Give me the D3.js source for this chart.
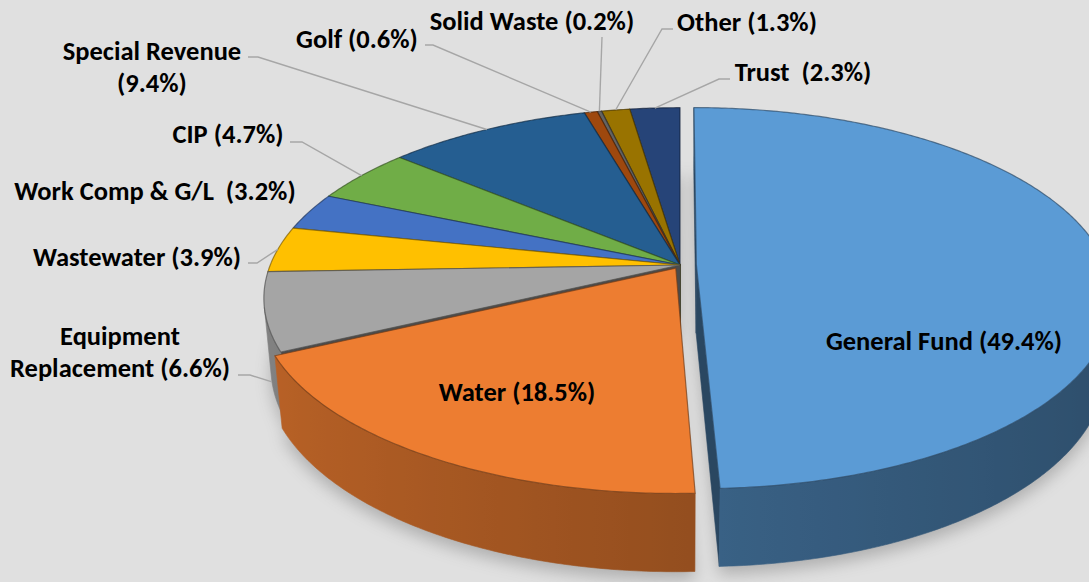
<!DOCTYPE html>
<html>
<head>
<meta charset="utf-8">
<script src="https://cdn.jsdelivr.net/npm/d3@7"></script>
<style>
  html, body { margin: 0; padding: 0; background: #e0e0e0; }
  #main { width: 1089px; height: 582px; overflow: hidden; }
  text { font-family: Carlito, Calibri, "Open Sans", sans-serif; font-weight: 700; fill: #000; white-space: pre; }
</style>
</head>
<body>
<div id="main"></div>
<script>
'use strict';

// fund shares, in pie order (clockwise from 12 o'clock)
var funds = ['General Fund', 'Water', 'Equipment Replacement', 'Wastewater', 'Work Comp & G/L', 'CIP',
  'Special Revenue', 'Golf', 'Solid Waste', 'Other', 'Trust'];
var shares = [49.4, 18.5, 6.6, 3.9, 3.2, 4.7, 9.4, 0.6, 0.2, 1.3, 2.3];
var labels = [
  ['General Fund (49.4%)'],
  ['Water (18.5%)'],
  ['Equipment', 'Replacement (6.6%)'],
  ['Wastewater (3.9%)'],
  ['Work Comp & G/L  (3.2%)'],
  ['CIP (4.7%)'],
  ['Special Revenue', '(9.4%)'],
  ['Golf (0.6%)'],
  ['Solid Waste (0.2%)'],
  ['Other (1.3%)'],
  ['Trust  (2.3%)']
];
var colors = ['#5B9BD5', '#ED7D31', '#A5A5A5', '#FFC000', '#4472C4', '#70AD47',
  '#255E91', '#9E480E', '#636363', '#997300', '#264478'];
var explode = [0.04, 0.02, 0, 0, 0, 0, 0, 0, 0, 0, 0];

// where the labels sit (text centre) and the elbow of their leader lines
var labelLayout = [
  { x: 944, y: 341, elbow: null },
  { x: 517, y: 392, elbow: null },
  { x: 120, y: [336, 368], elbow: [[238, 375], [250, 375]], drop: 1 },
  { x: 137, y: 257, elbow: [[248, 263], [257, 263]] },
  { x: 155, y: 191, elbow: null },
  { x: 228, y: 134, elbow: [[290, 142], [302, 142]] },
  { x: 152, y: [51, 83], elbow: [[248, 57], [258, 57]] },
  { x: 357, y: 39, elbow: [[425, 45], [433, 45]] },
  { x: 532, y: 21, elbow: [[602, 37]] },
  { x: 747, y: 22, elbow: [[673, 29], [662, 29]] },
  { x: 803, y: 72, elbow: [[730, 79], [719, 79]] }
];

var width = 1089, height = 582;
var svg = d3.select('#main').append('svg').attr('width', width).attr('height', height);

// simple perspective camera looking down on the disc
var cam = { cx: 680, cy: 265, F: 2095, D: 5.113, tilt: 26.8 * Math.PI / 180, h: 0.19 };
var sinT = Math.sin(cam.tilt), cosT = Math.cos(cam.tilt);

function project(X, Y, Z) {
  var depth = cam.D - Y * sinT - Z * cosT;
  var u = Y * cosT - Z * sinT;
  return [cam.cx + cam.F * X / depth, cam.cy - cam.F * u / depth];
}
function depthOf(X, Y, Z) { return cam.D - Y * sinT - Z * cosT; }

var pie = d3.pie().sort(null).value(function(d) { return d; });
var slices = pie(shares).map(function(p, i) {
  var mid = (p.startAngle + p.endAngle) / 2;
  return { i: i, a0: p.startAngle, a1: p.endAngle, mid: mid,
    ox: explode[i] * Math.sin(mid), oz: -explode[i] * Math.cos(mid) };
});

function rim(s, a, Y) { return project(s.ox + Math.sin(a), Y, s.oz - Math.cos(a)); }
function centre(s, Y) { return project(s.ox, Y, s.oz); }
function samples(a0, a1) {
  var n = Math.max(2, Math.ceil((a1 - a0) / 0.01));
  return d3.range(n + 1).map(function(k) { return a0 + (a1 - a0) * k / n; });
}
function facesCamera(px, py, pz, nx, nz) {
  return nx * (-px) + nz * (cam.D * cosT - pz) > 0;
}

var polyPath = d3.line().curve(d3.curveLinearClosed);
var defs = svg.append('defs');

defs.append('filter').attr('id', 'blur').attr('x', '-20%').attr('y', '-20%').attr('width', '140%').attr('height', '140%')
  .append('feGaussianBlur').attr('stdDeviation', 8);

// soft shadow under the disc
var shadow = svg.append('g').attr('filter', 'url(#blur)').attr('opacity', 0.4).attr('transform', 'translate(0,8)');
slices.forEach(function(s) {
  var pts = [centre(s, -cam.h)].concat(samples(s.a0, s.a1).map(function(a) { return rim(s, a, -cam.h); }));
  shadow.append('path').attr('d', polyPath(pts)).attr('fill', '#666');
});

// collect the side faces, draw back to front
var faces = [];
slices.forEach(function(s) {
  var run = [];
  function flush() {
    if (run.length > 1) {
      var m = run[Math.floor(run.length / 2)];
      faces.push({ kind: 'outer', s: s, angs: run.slice(),
        depth: depthOf(s.ox + Math.sin(m), -cam.h / 2, s.oz - Math.cos(m)) });
    }
    run = [];
  }
  samples(s.a0, s.a1).forEach(function(a) {
    var px = s.ox + Math.sin(a), pz = s.oz - Math.cos(a);
    if (facesCamera(px, 0, pz, Math.sin(a), -Math.cos(a))) run.push(a); else flush();
  });
  flush();

  [[s.a0, -1], [s.a1, 1]].forEach(function(e) {
    var a = e[0], sg = e[1];
    var px = s.ox + 0.5 * Math.sin(a), pz = s.oz - 0.5 * Math.cos(a);
    if (facesCamera(px, 0, pz, sg * Math.cos(a), sg * Math.sin(a))) {
      faces.push({ kind: 'radial', s: s, a: a, depth: depthOf(px, -cam.h / 2, pz) });
    }
  });
});
faces.sort(function(a, b) { return b.depth - a.depth; });

var sides = svg.append('g');
faces.forEach(function(f, k) {
  var c = colors[f.s.i];
  if (f.kind === 'outer') {
    var upper = f.angs.map(function(a) { return rim(f.s, a, 0); });
    var lower = f.angs.map(function(a) { return rim(f.s, a, -cam.h); }).reverse();
    var xs = upper.map(function(p) { return p[0]; });
    var x1 = d3.min(xs), x2 = d3.max(xs);
    var grad = defs.append('linearGradient').attr('id', 'wall' + k)
      .attr('gradientUnits', 'userSpaceOnUse')
      .attr('x1', x1).attr('x2', x2).attr('y1', 0).attr('y2', 0);
    var stops = f.angs.map(function(a, j) {
      return { off: (xs[j] - x1) / Math.max(1, x2 - x1), col: d3.color(c).darker(1.3 + 0.65 * Math.sin(a)) };
    }).sort(function(a, b) { return a.off - b.off; });
    stops.filter(function(d, j) { return j % 4 === 0 || j === stops.length - 1; }).forEach(function(st) {
      grad.append('stop').attr('offset', st.off).attr('stop-color', st.col);
    });
    sides.append('path').attr('d', polyPath(upper.concat(lower)))
      .attr('fill', 'url(#wall' + k + ')')
      .attr('stroke', 'url(#wall' + k + ')').attr('stroke-width', 0.6);
  } else {
    var pts = [centre(f.s, 0), rim(f.s, f.a, 0), rim(f.s, f.a, -cam.h), centre(f.s, -cam.h)];
    sides.append('path').attr('d', polyPath(pts))
      .attr('fill', d3.color(c).darker(2.2))
      .attr('stroke', d3.color(c).darker(2.2)).attr('stroke-width', 0.6);
  }
});

// top faces, far ones first
var tops = svg.append('g');
slices.slice().sort(function(a, b) {
  return depthOf(b.ox, 0, b.oz - 0.5 * Math.cos(b.mid)) - depthOf(a.ox, 0, a.oz - 0.5 * Math.cos(a.mid));
}).forEach(function(s) {
  var pts = [centre(s, 0)].concat(samples(s.a0, s.a1).map(function(a) { return rim(s, a, 0); }));
  tops.append('path').attr('d', polyPath(pts))
    .attr('fill', colors[s.i])
    .attr('stroke', d3.color(colors[s.i]).darker(2))
    .attr('stroke-opacity', 0.7)
    .attr('stroke-width', 1.2)
    .attr('stroke-linejoin', 'round');
});

// leader lines
var leaders = svg.append('g');
slices.forEach(function(s) {
  var L = labelLayout[s.i];
  if (!L.elbow) return;
  var end = rim(s, s.mid, -(L.drop || 0) * cam.h);
  leaders.append('path')
    .attr('d', d3.line()(L.elbow.concat([end])))
    .attr('fill', 'none').attr('stroke', '#a6a6a6').attr('stroke-width', 1.4);
});

// labels: size the font so the largest label is as wide as in the original
var probe = svg.append('text').style('font-size', '20px').text(labels[0][0]);
var fontSize = 20 * 236 / probe.node().getComputedTextLength();
probe.remove();

var txt = svg.append('g');
labels.forEach(function(lines, i) {
  var L = labelLayout[i];
  var ys = Array.isArray(L.y) ? L.y : [L.y];
  lines.forEach(function(line, j) {
    txt.append('text')
      .attr('x', L.x).attr('y', ys[j])
      .attr('text-anchor', 'middle')
      .attr('dominant-baseline', 'central')
      .style('font-size', fontSize.toFixed(1) + 'px')
      .text(line);
  });
});
</script>
</body>
</html>
